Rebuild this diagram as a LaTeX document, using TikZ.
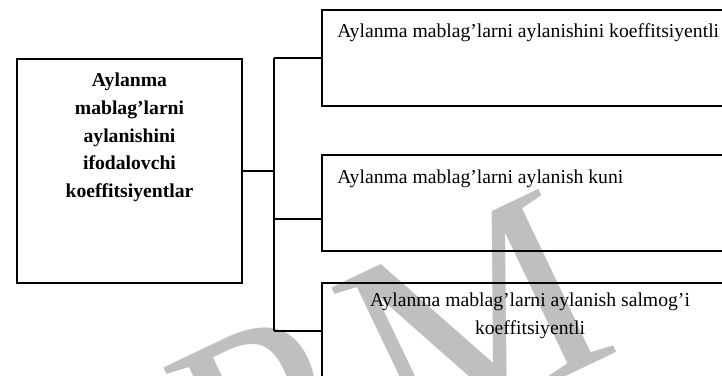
\documentclass[tikz,border=0pt]{standalone}
\usepackage{fontspec}
\setmainfont{Liberation Serif}
\usepackage{tikz}

\begin{document}
\begin{tikzpicture}[x=0.6pt,y=-0.6pt,
  box/.style={draw,line width=0.8pt,inner sep=0pt,minimum width=249.6pt,minimum height=57.6pt},
  txt/.style={font=\fontsize{11.8}{16.6}\selectfont,inner sep=0pt},
  boldtxt/.style={font=\fontsize{11.8}{16.6}\selectfont\bfseries,inner sep=0pt,align=center},
  wmark/.style={text=gray!50,inner sep=0pt,font=\fontsize{165.6}{165.6}\selectfont},
  conn/.style={line width=0.8pt}]

\useasboundingbox (0,0) rectangle (722,376);
\clip (0,0) rectangle (722,376);

% 水印
\node[wmark,rotate=25.5,anchor=base west] (wm) at (234,535) {P\kern.12em M};

% 左边的大框
\node[draw,line width=0.8pt,inner sep=0pt,minimum width=135pt,minimum height=134.4pt] (main) at (129.5,171) {};
\node[boldtxt] (maintxt) at (129.5,137.5) {Aylanma\\mablag’larni\\aylanishini\\ifodalovchi\\koeffitsiyentlar};

% 右边的三个框
\node[box] (box1) at (530,58) {};
\node[box] (box2) at (530,203) {};
\node[box] (box3) at (530,331) {};

\node[txt,anchor=base west] (t1) at (337,37) {Aylanma mablag’larni aylanishini koeffitsiyentli};
\node[txt,anchor=base west] (t2) at (337,183) {Aylanma mablag’larni aylanish kuni};
\node[txt,align=center] (t3) at (530,316) {Aylanma mablag’larni aylanish salmog’i\\koeffitsiyentli};

% 连线
\coordinate (jt) at (274,58);
\coordinate (jm) at (274,171);
\coordinate (j2) at (274,219);
\coordinate (jb) at (274,331);
\draw[conn] (main.east) -- (jm);
\draw[conn] (jt) -- (jb);
\draw[conn] (jt) -- (jt -| box1.west);
\draw[conn] (j2) -- (j2 -| box2.west);
\draw[conn] (jb) -- (jb -| box3.west);

\end{tikzpicture}
\end{document}
